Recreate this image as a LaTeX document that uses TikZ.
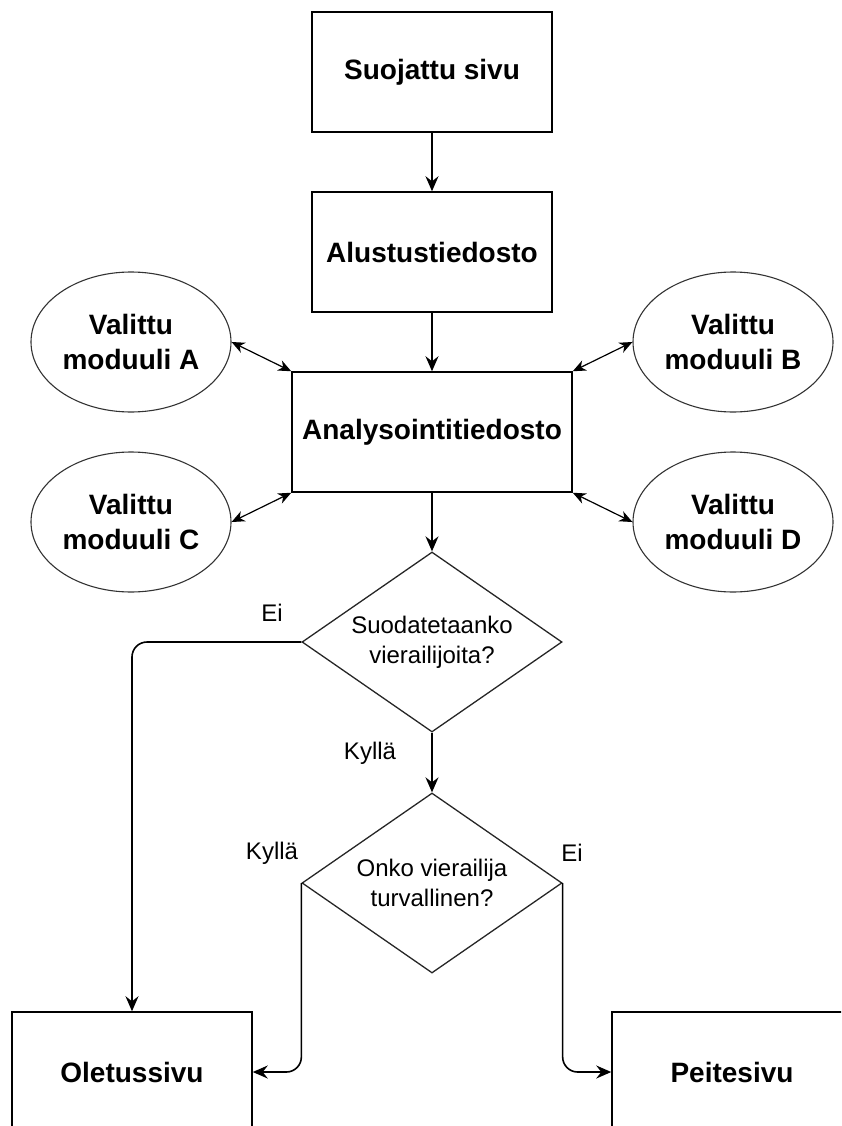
\documentclass[tikz,border=0pt]{standalone}
\usepackage{fontspec}
\setmainfont{Liberation Sans}
\usetikzlibrary{arrows.meta,shapes.geometric}

\begin{document}
\begin{tikzpicture}[x=1pt,y=-1pt,
    page/.style={draw, line width=1.5pt, minimum width=240pt, minimum height=120pt, inner sep=0pt,
        font=\fontsize{28}{35}\selectfont\bfseries},
    modul/.style={draw=black!80, ellipse, line width=1.1pt, minimum width=200pt, minimum height=140pt,
        inner sep=0pt, align=center, font=\fontsize{28}{35}\selectfont\bfseries},
    choice/.style={draw=black!85, diamond, aspect=1.44, line width=1.3pt, minimum width=260pt,
        minimum height=180pt, inner sep=0pt, align=center, font=\fontsize{24}{30}\selectfont},
    lbl/.style={font=\fontsize{24}{30}\selectfont, inner sep=0pt},
    flow/.style={line width=1.6pt, -{Stealth[length=15pt,width=13pt,inset=5pt]}},
    link/.style={line width=1.2pt, {Stealth[length=13pt,width=11pt,inset=4pt]}-{Stealth[length=13pt,width=11pt,inset=4pt]}}]
    \useasboundingbox (0,0) rectangle (841,1126);
    \clip (0,0) rectangle (841,1126);

    % Main chain
    \node[page] (prot) at (432,72) {Suojattu sivu};
    \node[page] (init) at (432,252) {Alustustiedosto};
    \node[page, minimum width=280pt] (ana) at (432,432) {Analysointitiedosto};
    \draw[flow] (prot) -- (init);
    \draw[flow] (init) -- (ana);

    % Modules
    \node[modul] (modA) at (131,342) {Valittu\\moduuli A};
    \node[modul] (modB) at (733,342) {Valittu\\moduuli B};
    \node[modul] (modC) at (131,522) {Valittu\\moduuli C};
    \node[modul] (modD) at (733,522) {Valittu\\moduuli D};
    \draw[link] (modA.east) -- (ana.north west);
    \draw[link] (modB.west) -- (ana.north east);
    \draw[link] (modC.east) -- (ana.south west);
    \draw[link] (modD.west) -- (ana.south east);

    % Decisions
    \node[choice] (filt) at (432,642) {Suodatetaanko\\vierailijoita?};
    \node[choice] (safe) at (432,883) {Onko vierailija\\turvallinen?};
    \node[page] (dflt) at (132,1072) {Oletussivu};
    \node[page] (cover) at (732,1072) {Peitesivu};

    \draw[flow] (ana) -- (filt);
    \draw[flow] (filt) -- (safe);
    \draw[flow, rounded corners=15pt] (filt.west) -| (dflt.north);
    \draw[flow, rounded corners=15pt] (safe.west) |- (dflt.east);
    \draw[flow, rounded corners=15pt] (safe.east) |- (cover.west);

    \node[lbl] (noA) at (272,613) {Ei};
    \node[lbl] (yesA) at (370,753) {Kyllä};
    \node[lbl] (yesB) at (272,853) {Kyllä};
    \node[lbl] (noB) at (572,853) {Ei};
\end{tikzpicture}
\end{document}
